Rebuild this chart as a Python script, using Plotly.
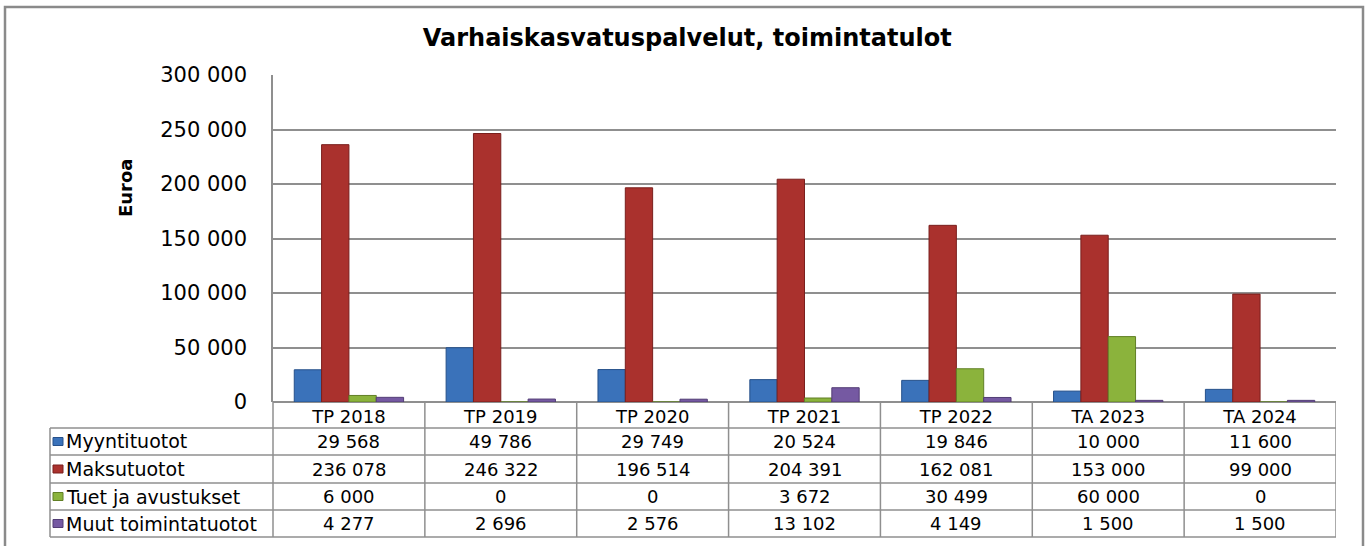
import plotly.graph_objects as go

categories = ["TP 2018", "TP 2019", "TP 2020", "TP 2021", "TP 2022", "TA 2023", "TA 2024"]
series_names = ["Myyntituotot", "Maksutuotot", "Tuet ja avustukset", "Muut toimintatuotot"]
myyntituotot = [29568, 49786, 29749, 20524, 19846, 10000, 11600]
maksutuotot = [236078, 246322, 196514, 204391, 162081, 153000, 99000]
tuet = [6000, 0, 0, 3672, 30499, 60000, 0]
muut = [4277, 2696, 2576, 13102, 4149, 1500, 1500]
y_ticks = [0, 50000, 100000, 150000, 200000, 250000, 300000]

series_values = [myyntituotot, maksutuotot, tuet, muut]
colors = ["#3A72BA", "#AA312D", "#8BB33C", "#7559A2"]
edges = ["#26508A", "#7A1F1D", "#617F25", "#523D75"]

W, H = 1369, 546
L, R, T, B = 273, 1336, 75, 402
FONT = "DejaVu Sans"
GRID = "#8f8f8f"


def px(x):
    return (x - L) / (R - L)


def py(y):
    return (B - y) / (B - T)


fig = go.Figure()
for name, vals, c, e in zip(series_names, series_values, colors, edges):
    fig.add_trace(go.Bar(name=name, x=categories, y=vals,
                         marker=dict(color=c, line=dict(color=e, width=1))))

fig.update_layout(
    width=W, height=H,
    margin=dict(l=L, r=W - R, t=T, b=H - B),
    paper_bgcolor="white", plot_bgcolor="white",
    barmode="group", bargap=0.28, bargroupgap=0,
    showlegend=False,
    separators=", ",
    font=dict(family=FONT, color="black"),
    title=dict(text="<b>Varhaiskasvatuspalvelut, toimintatulot</b>",
               x=0.502, xref="container", xanchor="center",
               y=1 - 38 / H, yref="container", yanchor="middle",
               font=dict(family=FONT, size=24, color="black")),
)
fig.update_xaxes(type="category", range=[-0.5, 6.5], showgrid=False,
                 showline=False, ticks="", tickfont=dict(family=FONT, size=18),
                 ticklabelstandoff=2)
fig.update_yaxes(range=[0, 300000], tickvals=y_ticks, tickformat=",d",
                 showgrid=True, gridcolor=GRID, gridwidth=1.5,
                 zeroline=True, zerolinecolor=GRID, zerolinewidth=1.5,
                 showline=True, linecolor=GRID, linewidth=1.5,
                 ticks="", tickfont=dict(family=FONT, size=21),
                 ticklabelstandoff=20)

shapes = []
LINE = dict(color="#8f8f8f", width=1.5)
# outer chart border
shapes.append(dict(type="rect", xref="paper", yref="paper",
                   x0=px(5), x1=px(1363), y0=py(560), y1=py(7),
                   line=dict(color="#8a8a8a", width=2.5), layer="below"))
# data table grid
row_lines = [428, 455, 483, 510, 537]
for yl in row_lines:
    shapes.append(dict(type="line", xref="paper", yref="paper",
                       x0=px(50), x1=1, y0=py(yl), y1=py(yl), line=LINE))
shapes.append(dict(type="line", xref="paper", yref="paper",
                   x0=px(50), x1=px(50), y0=py(428), y1=py(537), line=LINE))
shapes.append(dict(type="line", xref="paper", yref="paper",
                   x0=0, x1=0, y0=py(402), y1=py(537), line=LINE))
for i in range(len(categories)):
    shapes.append(dict(type="line", xref="x", yref="paper",
                       x0=i + 0.5, x1=i + 0.5, y0=py(402), y1=py(537), line=LINE))

annotations = [dict(text="<b>Euroa</b>", xref="paper", yref="paper",
                    x=px(125), y=py(188), textangle=-90, showarrow=False,
                    xanchor="center", yanchor="middle",
                    font=dict(family=FONT, size=18, color="black"))]

for r, (name, vals, c, e) in enumerate(zip(series_names, series_values, colors, edges)):
    top, bot = row_lines[r], row_lines[r + 1]
    yc = py((top + bot) / 2)
    # legend key swatch
    shapes.append(dict(type="rect", xref="paper", yref="paper",
                       x0=px(53), x1=px(63), y0=py((top + bot) / 2 + 4),
                       y1=py((top + bot) / 2 - 4),
                       fillcolor=c, line=dict(color=e, width=1)))
    annotations.append(dict(text=name, xref="paper", yref="paper", x=px(64), y=yc,
                            xanchor="left", yanchor="middle", showarrow=False,
                            font=dict(family=FONT, size=19, color="black")))
    for i, v in enumerate(vals):
        annotations.append(dict(text=f"{v:,}".replace(",", " "), xref="x", yref="paper",
                                x=i, y=yc, xanchor="center", yanchor="middle",
                                showarrow=False,
                                font=dict(family=FONT, size=18, color="black")))

fig.update_layout(shapes=shapes, annotations=annotations)
fig.write_html("out.html",
               config={"displayModeBar": False},
               post_script="document.body.style.margin='0px';"
                           "document.body.style.overflow='hidden';")
